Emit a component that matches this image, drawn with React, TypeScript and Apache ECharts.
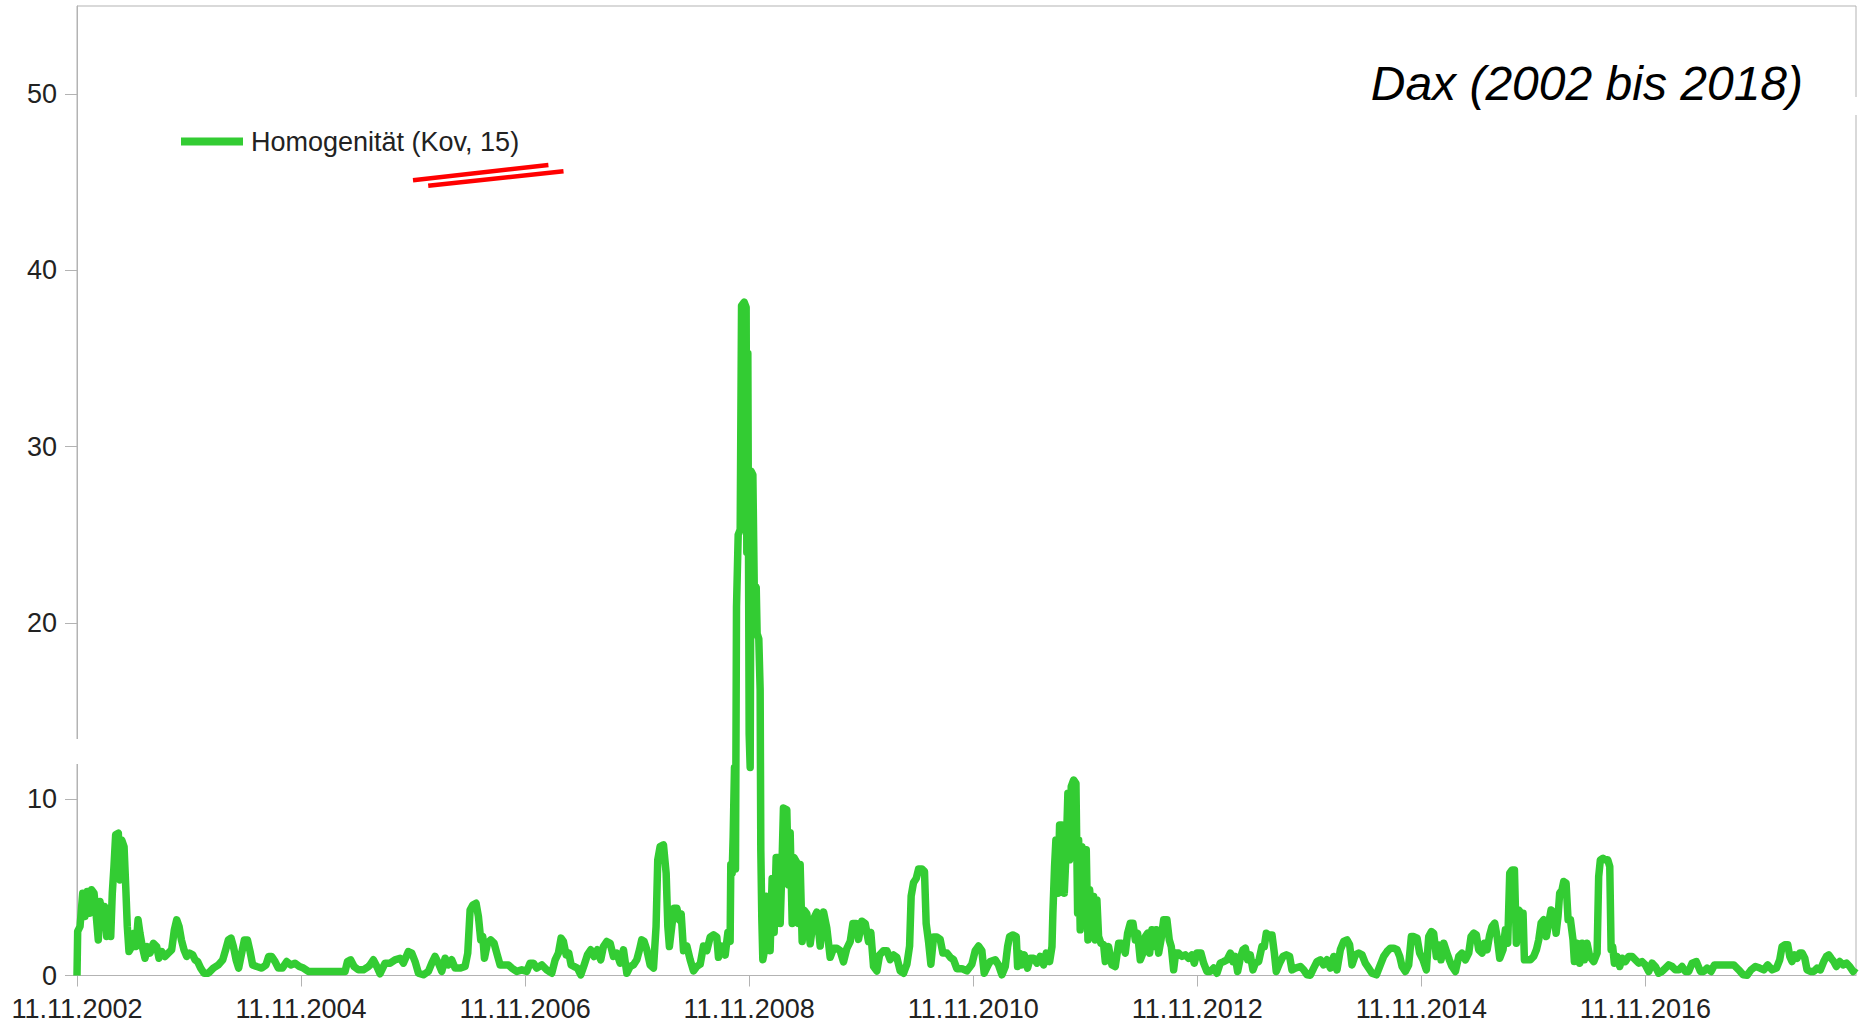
import React, { useEffect, useRef } from "react";
import * as echarts from "echarts";

// x values: years since 11.11.2002; y values: Homogenität (Kov, 15)
const seg2002_2005: [number, number][] = [[0,0],[0.006,2.5],[0.027,2.78],[0.051,4.67],[0.071,3.35],[0.092,4.76],[0.11,3.53],[0.131,4.86],[0.152,4.67],[0.17,3.53],[0.19,2.02],[0.205,4.2],[0.226,2.78],[0.244,3.91],[0.265,2.21],[0.286,3.82],[0.301,2.21],[0.315,4.67],[0.33,6.18],[0.345,7.98],[0.369,8.07],[0.384,5.42],[0.399,7.69],[0.42,7.31],[0.435,5.05],[0.449,2.78],[0.464,1.36],[0.488,1.64],[0.509,2.4],[0.527,1.64],[0.545,3.16],[0.562,2.4],[0.583,1.64],[0.607,0.98],[0.628,1.64],[0.652,1.27],[0.682,1.83],[0.711,1.64],[0.732,0.98],[0.756,1.36],[0.786,1.08],[0.815,1.27],[0.845,1.46],[0.869,2.59],[0.89,3.16],[0.911,2.78],[0.932,2.02],[0.955,1.46],[0.979,1.08],[1.003,1.27],[1.033,1.17],[1.054,0.89],[1.077,0.79],[1.104,0.42],[1.134,0.13],[1.173,0.13],[1.217,0.42],[1.262,0.6],[1.301,0.89],[1.327,1.46],[1.351,2.02],[1.375,2.12],[1.396,1.64],[1.42,0.89],[1.443,0.42],[1.47,1.27],[1.494,2.02],[1.521,2.02],[1.545,1.36],[1.568,0.6],[1.604,0.51],[1.649,0.42],[1.687,0.6],[1.711,1.08],[1.738,1.08],[1.768,0.79],[1.797,0.42],[1.833,0.42],[1.872,0.79],[1.908,0.6],[1.946,0.7],[1.985,0.51],[2.021,0.42],[2.065,0.23],[2.14,0.23],[2.229,0.23],[2.318,0.23],[2.393,0.23],[2.414,0.79],[2.443,0.89],[2.473,0.51],[2.512,0.32],[2.556,0.32],[2.601,0.51]];

const seg2005_2008: [number, number][] = [[2.616,0.6],[2.646,0.89],[2.676,0.51],[2.705,0.1],[2.75,0.7],[2.795,0.7],[2.839,0.89],[2.884,0.98],[2.914,0.7],[2.958,1.36],[2.988,1.27],[3.018,0.79],[3.048,0.13],[3.092,0.04],[3.137,0.23],[3.167,0.7],[3.196,1.08],[3.226,0.7],[3.256,0.23],[3.286,0.98],[3.315,0.6],[3.345,0.89],[3.375,0.42],[3.419,0.42],[3.464,0.51],[3.488,1.27],[3.509,3.72],[3.533,4.0],[3.562,4.1],[3.583,3.35],[3.604,2.02],[3.622,2.21],[3.637,0.98],[3.664,1.83],[3.693,2.02],[3.723,1.83],[3.747,1.27],[3.777,0.6],[3.806,0.6],[3.851,0.6],[3.881,0.42],[3.925,0.23],[3.97,0.32],[4.015,0.23],[4.044,0.7],[4.074,0.7],[4.104,0.42],[4.149,0.6],[4.193,0.32],[4.238,0.13],[4.268,0.89],[4.297,1.27],[4.321,2.12],[4.342,1.93],[4.366,1.17],[4.39,1.27],[4.411,0.6],[4.437,0.51],[4.467,0.42],[4.497,0.04],[4.527,0.6],[4.556,1.17],[4.586,1.46],[4.616,1.08],[4.646,1.46],[4.675,0.89],[4.699,1.64],[4.729,1.93],[4.759,1.83],[4.788,1.08],[4.818,1.27],[4.848,0.7],[4.878,1.46],[4.908,0.13],[4.937,0.51],[4.967,0.6],[4.997,0.89],[5.021,1.46],[5.041,2.02],[5.062,1.93],[5.086,1.46],[5.116,0.6],[5.146,0.42],[5.169,2.78],[5.184,6.56],[5.205,7.31],[5.235,7.41],[5.259,5.8],[5.274,2.78],[5.288,1.64],[5.309,2.78],[5.33,3.82],[5.354,3.82],[5.378,3.16]];

const seg2008_2010: [number, number][] = [[5.393,3.5],[5.414,1.41],[5.444,1.67],[5.473,0.9],[5.503,0.26],[5.533,0.51],[5.563,0.64],[5.592,1.67],[5.622,1.41],[5.652,2.18],[5.682,2.31],[5.711,2.18],[5.726,1.03],[5.756,1.67],[5.786,1.16],[5.81,2.44],[5.83,1.93],[5.836,6.29],[5.848,5.8],[5.857,7.84],[5.869,11.8],[5.878,6.04],[5.887,20.9],[5.902,25.0],[5.92,25.3],[5.932,38.0],[5.955,38.2],[5.973,37.9],[5.979,24.0],[5.988,35.3],[6.0,13.7],[6.009,11.8],[6.018,28.6],[6.033,28.4],[6.045,22.2],[6.063,22.0],[6.071,19.4],[6.086,19.1],[6.098,16.2],[6.104,7.07],[6.113,3.2],[6.122,0.9],[6.137,1.41],[6.152,4.5],[6.173,4.37],[6.187,1.41],[6.205,5.5],[6.223,2.44],[6.241,6.7],[6.265,6.7],[6.277,2.95],[6.292,6.04],[6.306,9.5],[6.336,9.4],[6.351,5.14],[6.366,8.1],[6.384,2.95],[6.399,6.7],[6.426,6.4],[6.44,2.95],[6.455,6.3],[6.473,1.93],[6.491,3.7],[6.515,3.5],[6.545,1.8],[6.574,3.2],[6.604,3.6],[6.634,1.67],[6.664,3.6],[6.693,2.7],[6.723,1.03],[6.753,1.54],[6.783,1.54],[6.812,1.41],[6.842,0.77],[6.872,1.54],[6.902,1.93],[6.926,2.95],[6.955,2.95],[6.976,2.05],[7.006,3.08],[7.036,2.95],[7.065,1.93],[7.086,2.44],[7.11,0.51],[7.14,0.26],[7.164,1.16],[7.199,1.41],[7.229,1.41],[7.259,0.9],[7.289,1.16],[7.318,1.03],[7.348,0.26],[7.378,0.13],[7.408,0.64],[7.432,1.67],[7.446,4.5],[7.467,5.27],[7.491,5.5],[7.512,6.04],[7.542,6.04],[7.565,5.9],[7.58,2.95],[7.601,1.93],[7.622,0.64],[7.646,2.18],[7.676,2.18],[7.705,2.05],[7.729,1.28],[7.765,1.28],[7.795,1.03],[7.824,0.9],[7.854,0.39],[7.899,0.39],[7.943,0.26],[7.988,0.64],[8.018,1.41],[8.047,1.67],[8.077,1.41],[8.098,0.13],[8.137,0.64]];

const seg2010_2013: [number, number][] = [[8.152,0.79],[8.197,0.89],[8.226,0.6],[8.256,0.04],[8.286,0.51],[8.307,1.64],[8.325,2.21],[8.354,2.3],[8.384,2.21],[8.396,0.51],[8.414,1.27],[8.435,0.6],[8.456,1.17],[8.485,0.42],[8.509,0.98],[8.539,0.98],[8.569,0.7],[8.598,1.08],[8.628,0.6],[8.652,1.27],[8.682,0.79],[8.703,1.64],[8.711,3.53],[8.726,6.18],[8.738,7.69],[8.756,4.67],[8.771,8.54],[8.792,8.54],[8.813,4.67],[8.831,7.31],[8.845,10.34],[8.86,6.56],[8.875,10.72],[8.896,11.09],[8.917,10.9],[8.932,3.53],[8.941,7.69],[8.955,2.59],[8.97,7.31],[8.991,3.72],[9.009,7.13],[9.024,2.02],[9.039,4.86],[9.06,3.16],[9.075,4.48],[9.089,2.02],[9.104,4.29],[9.119,2.21],[9.14,1.83],[9.164,1.74],[9.179,0.79],[9.208,1.64],[9.238,0.6],[9.268,0.51],[9.298,1.83],[9.328,1.83],[9.357,1.27],[9.378,2.4],[9.402,2.97],[9.426,2.97],[9.447,2.02],[9.467,2.4],[9.491,0.89],[9.515,1.27],[9.536,2.21],[9.557,2.4],[9.575,1.27],[9.595,2.59],[9.616,1.64],[9.634,2.59],[9.655,1.27],[9.676,2.02],[9.7,3.16],[9.729,3.16],[9.75,2.02],[9.768,1.64],[9.789,0.32],[9.807,1.27],[9.833,1.27],[9.863,1.08],[9.893,1.17],[9.923,0.98],[9.952,1.17],[9.973,0.7],[9.997,1.27],[10.033,1.27],[10.057,0.7],[10.086,0.23],[10.116,0.23],[10.146,0.42],[10.176,0.13],[10.205,0.7],[10.235,0.79],[10.265,0.89],[10.295,1.27],[10.318,0.79],[10.339,1.08],[10.36,0.23],[10.384,0.98],[10.408,1.46],[10.429,1.55],[10.45,0.89],[10.473,1.17],[10.497,0.32],[10.518,0.7],[10.548,0.79],[10.577,1.64],[10.598,1.64],[10.616,2.4],[10.637,2.3],[10.667,2.3],[10.688,1.27],[10.705,0.23],[10.735,0.7],[10.765,1.08],[10.795,1.17],[10.824,1.08],[10.845,0.32],[10.875,0.42]];

const seg2013_2016: [number, number][] = [[10.92,0.51],[10.95,0.32],[10.98,0.04],[11.009,0.02],[11.039,0.42],[11.069,0.79],[11.099,0.89],[11.128,0.6],[11.158,0.89],[11.188,0.42],[11.218,1.08],[11.247,0.32],[11.277,1.46],[11.307,1.93],[11.337,2.02],[11.36,1.74],[11.381,0.6],[11.411,1.17],[11.441,1.27],[11.471,1.17],[11.5,0.7],[11.53,0.42],[11.56,0.13],[11.599,0.04],[11.634,0.6],[11.664,1.08],[11.694,1.36],[11.724,1.55],[11.753,1.55],[11.783,1.46],[11.807,1.08],[11.828,0.51],[11.857,0.23],[11.887,0.6],[11.911,2.21],[11.932,2.21],[11.962,2.12],[11.985,1.27],[12.015,0.89],[12.045,0.32],[12.066,2.21],[12.09,2.49],[12.11,2.4],[12.134,1.08],[12.155,1.74],[12.176,0.89],[12.2,1.83],[12.229,1.27],[12.25,0.89],[12.274,0.51],[12.304,0.23],[12.334,1.08],[12.363,1.27],[12.393,0.89],[12.423,1.27],[12.444,2.21],[12.468,2.4],[12.491,2.3],[12.512,1.46],[12.542,1.27],[12.563,1.83],[12.587,1.46],[12.61,2.3],[12.631,2.78],[12.655,2.97],[12.676,2.21],[12.7,0.98],[12.729,1.46],[12.75,2.59],[12.771,1.83],[12.789,5.8],[12.81,5.99],[12.831,5.99],[12.848,1.83],[12.869,3.72],[12.89,3.53],[12.908,3.53],[12.92,0.89],[12.944,0.89],[12.973,0.89],[13.003,1.08],[13.027,1.46],[13.048,2.02],[13.069,2.97],[13.092,3.16],[13.116,2.21],[13.137,2.97],[13.158,3.72],[13.182,3.53],[13.203,2.4],[13.22,3.35],[13.235,4.67],[13.256,4.86],[13.271,5.33],[13.292,5.24],[13.31,3.16],[13.331,3.16],[13.354,2.02],[13.366,0.79],[13.39,1.83],[13.414,0.7],[13.435,1.83],[13.456,0.89],[13.479,1.83],[13.503,1.08]];

const seg2016_2018: [number, number][] = [[13.539,0.79],[13.569,1.27],[13.583,5.61],[13.598,6.56],[13.622,6.65],[13.643,6.56],[13.664,6.56],[13.682,6.18],[13.694,1.46],[13.708,1.64],[13.723,0.7],[13.747,1.08],[13.771,0.51],[13.792,0.98],[13.821,0.79],[13.851,1.08],[13.881,1.08],[13.911,0.89],[13.941,0.7],[13.97,0.79],[14.0,0.6],[14.03,0.23],[14.06,0.7],[14.089,0.51],[14.119,0.13],[14.149,0.23],[14.179,0.42],[14.208,0.6],[14.238,0.51],[14.268,0.32],[14.298,0.32],[14.327,0.51],[14.357,0.23],[14.387,0.23],[14.417,0.7],[14.455,0.79],[14.491,0.23],[14.521,0.23],[14.551,0.42],[14.586,0.23],[14.616,0.6],[14.655,0.6],[14.699,0.6],[14.744,0.6],[14.789,0.6],[14.833,0.32],[14.872,0.04],[14.908,0.02],[14.943,0.32],[14.982,0.51],[15.021,0.42],[15.057,0.32],[15.092,0.6],[15.131,0.32],[15.17,0.42],[15.199,0.89],[15.22,1.64],[15.244,1.74],[15.271,1.74],[15.289,1.08],[15.309,0.79],[15.33,1.17],[15.354,0.98],[15.378,1.27],[15.399,1.27],[15.423,0.98],[15.443,0.32],[15.473,0.23],[15.503,0.23],[15.533,0.42],[15.562,0.32],[15.592,0.79],[15.616,1.08],[15.637,1.17],[15.658,0.98],[15.681,0.79],[15.705,0.51],[15.735,0.79],[15.765,0.6],[15.795,0.7],[15.824,0.51],[15.854,0.23],[15.875,0.42]];

const xTickYears = [2002, 2004, 2006, 2008, 2010, 2012, 2014, 2016];
const xTickLabels = xTickYears.map((y) => "11.11." + y);
const yTickValues = [0, 10, 20, 30, 40, 50];
const seriesName = "Homogenität (Kov, 15)";
const chartTitle = "Dax (2002 bis 2018)";
const X_MAX = 15.88;
const Y_MAX = 55;

const FONT = "'Liberation Sans', Arial, sans-serif";
const AXIS_GRAY = "#b3b3b3";
const GREEN = "#33cc33";

export default function App() {
  const ref = useRef<HTMLDivElement>(null);
  useEffect(() => {
    if (!ref.current) return;
    const chart = echarts.init(ref.current, null, { renderer: "svg" });
    const data = [
      ...seg2002_2005,
      ...seg2005_2008,
      ...seg2008_2010,
      ...seg2010_2013,
      ...seg2013_2016,
      ...seg2016_2018,
    ];
    const xTickValues = xTickYears.map((y) => y - xTickYears[0]);
    chart.setOption({
      animation: false,
      backgroundColor: "#ffffff",
      title: {
        text: chartTitle,
        right: 52,
        top: 54,
        textStyle: {
          fontFamily: FONT,
          fontSize: 48,
          fontStyle: "italic",
          fontWeight: "normal",
          color: "#000000",
        },
      },
      legend: {
        left: 176,
        top: 123,
        icon: "rect",
        itemWidth: 62,
        itemHeight: 8,
        data: [seriesName],
        textStyle: { fontFamily: FONT, fontSize: 27, color: "#222222", padding: [0, 0, 0, 3] },
      },
      grid: {
        left: 77,
        right: 4,
        top: 6,
        bottom: 47.5,
        show: true,
        borderColor: AXIS_GRAY,
        borderWidth: 1,
        containLabel: false,
      },
      xAxis: {
        type: "value",
        min: 0,
        max: X_MAX,
        axisLine: { show: true, lineStyle: { color: AXIS_GRAY, width: 1 } },
        axisTick: {
          show: true,
          length: 11,
          lineStyle: { color: AXIS_GRAY },
          customValues: xTickValues,
        },
        axisLabel: {
          customValues: xTickValues,
          margin: 20,
          fontFamily: FONT,
          fontSize: 27,
          color: "#222222",
          formatter: (v: number) => {
            const i = xTickValues.indexOf(Math.round(v));
            return i >= 0 ? xTickLabels[i] : "";
          },
        },
        splitLine: { show: false },
      },
      yAxis: {
        type: "value",
        min: 0,
        max: Y_MAX,
        axisLine: { show: true, lineStyle: { color: AXIS_GRAY, width: 1 } },
        axisTick: {
          show: true,
          length: 12,
          lineStyle: { color: AXIS_GRAY },
          customValues: yTickValues,
        },
        axisLabel: {
          customValues: yTickValues,
          margin: 20,
          fontFamily: FONT,
          fontSize: 27,
          color: "#222222",
        },
        splitLine: { show: false },
      },
      series: [
        {
          name: seriesName,
          type: "line",
          data,
          showSymbol: false,
          symbol: "none",
          color: GREEN,
          lineStyle: { color: GREEN, width: 7.5, join: "round" },
        },
      ],
      graphic: [
        {
          type: "rect",
          z: 100,
          shape: { x: 74, y: 739, width: 6, height: 25 },
          style: { fill: "#ffffff" },
        },
        {
          type: "rect",
          z: 100,
          shape: { x: 1852, y: 97, width: 8, height: 18 },
          style: { fill: "#ffffff" },
        },
        {
          type: "line",
          z: 100,
          shape: { x1: 413, y1: 180.3, x2: 548.4, y2: 165 },
          style: { stroke: "#ff0000", lineWidth: 4.5 },
        },
        {
          type: "line",
          z: 100,
          shape: { x1: 428.2, y1: 185.7, x2: 563.5, y2: 171.3 },
          style: { stroke: "#ff0000", lineWidth: 4.5 },
        },
      ],
    });
    return () => chart.dispose();
  }, []);
  return (
    <div
      ref={ref}
      style={{ position: "absolute", left: 0, top: 0, width: 1860, height: 1023 }}
    />
  );
}
